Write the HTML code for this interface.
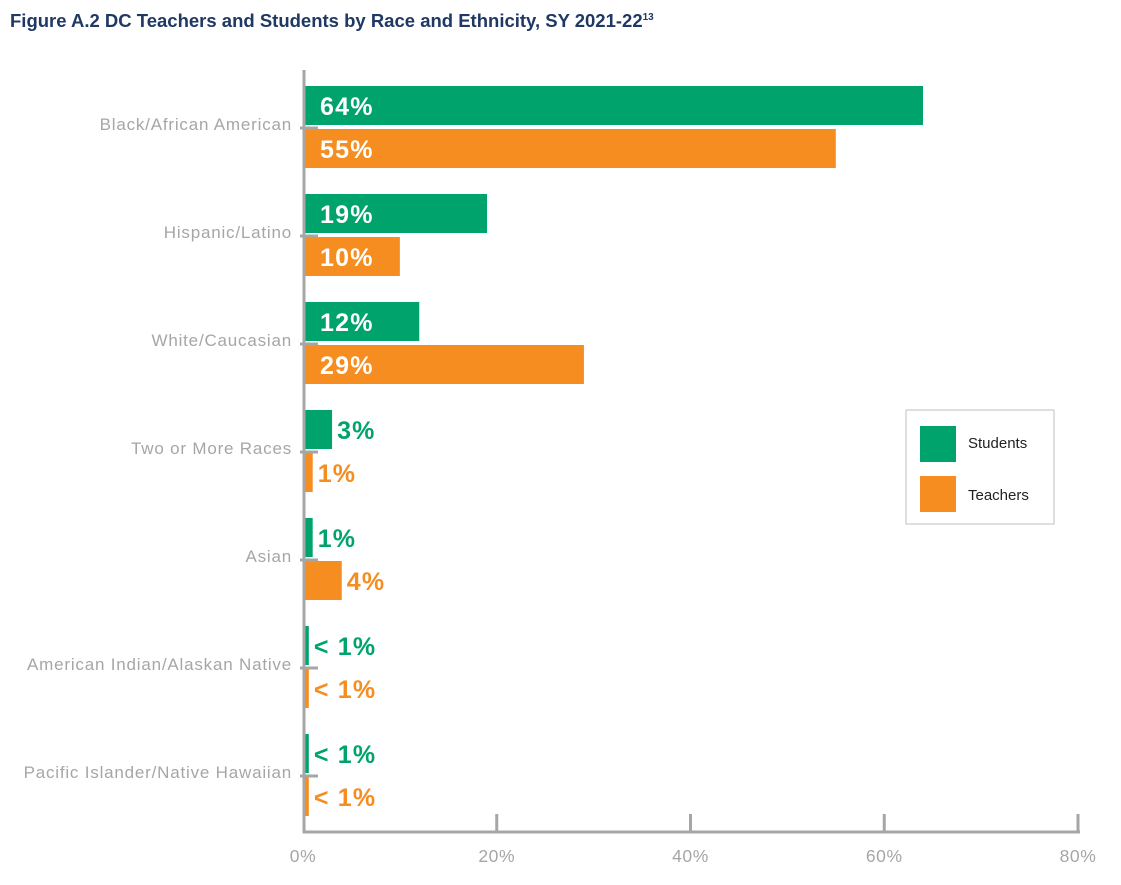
<!DOCTYPE html>
<html><head><meta charset="utf-8"><style>
body{margin:0;background:#fff;width:1121px;height:880px;overflow:hidden;font-family:"Liberation Sans",sans-serif}
</style></head><body>
<svg width="1121" height="880">
<text x="10" y="27" font-size="18.5" font-weight="bold" fill="#1f3864">Figure A.2 DC Teachers and Students by Race and Ethnicity, SY 2021-22<tspan font-size="10" dy="-7">13</tspan></text>
<g id="plot"></g>
<g>
<rect x="906" y="410" width="148" height="114" fill="#fff" stroke="#bfbfbf"/>
<rect x="920" y="426" width="36" height="36" fill="#00a36c"/>
<text x="968" y="448" font-size="15" fill="#222">Students</text>
<rect x="920" y="476" width="36" height="36" fill="#f68d20"/>
<text x="968" y="500" font-size="15" fill="#222">Teachers</text>
</g>
</svg>
<script>
const categories=["Black/African American","Hispanic/Latino","White/Caucasian","Two or More Races","Asian","American Indian/Alaskan Native","Pacific Islander/Native Hawaiian"];
const students=[64,19,12,3,1,0.6,0.6];
const teachers=[55,10,29,1,4,0.6,0.6];
const studentLabels=["64%","19%","12%","3%","1%","< 1%","< 1%"];
const teacherLabels=["55%","10%","29%","1%","4%","< 1%","< 1%"];
const xTicks=[0,20,40,60,80];
const NS="http://www.w3.org/2000/svg";
const g=document.getElementById('plot');
const x0=303,x1=1078,xMax=80;
const xs=v=>x0+(v/xMax)*(x1-x0);
const yTick=i=>128+108*i;
function mk(t,a){const e=document.createElementNS(NS,t);for(const k in a)e.setAttribute(k,a[k]);g.appendChild(e);return e;}
const GR="#a6a6a6";
categories.forEach((c,i)=>{
  const yt=yTick(i);
  [[students,studentLabels,yt-42,"#00a36c","student"],[teachers,teacherLabels,yt+1,"#f68d20","teacher"]].forEach(([vals,labs,y,col,nm])=>{
    const w=xs(vals[i])-x0;
    const r=mk('rect',{x:x0,y:y,width:w,height:39,fill:col});
    
    
    const inside=w>60;
    const t=mk('text',{x:inside?x0+17:x0+w+5,y:y+29,'font-size':25,'font-weight':'bold','letter-spacing':1.2,fill:inside?'#fff':col});
    t.textContent=labs[i];
    
    
  });
  const l=mk('text',{x:292,y:yt+2,'font-size':17,'letter-spacing':0.8,fill:GR,'text-anchor':'end'});
  l.textContent=c;
  
  
  const tk=mk('line',{x1:300,x2:318,y1:yt,y2:yt,stroke:GR,'stroke-width':3});
  
  
});
const ya=mk('line',{x1:304,x2:304,y1:70,y2:833,stroke:GR,'stroke-width':3});


const xa=mk('line',{x1:303,x2:1080,y1:832,y2:832,stroke:GR,'stroke-width':3});


xTicks.forEach(v=>{
  const X=xs(v);
  if(v>0){const tl=mk('line',{x1:X,x2:X,y1:814,y2:832,stroke:GR,'stroke-width':3});
  
  }
  const t=mk('text',{x:X,y:862,'font-size':17.5,'letter-spacing':0.6,fill:GR,'text-anchor':'middle'});
  t.textContent=v+'%';
  
  
});
</script>
</body></html>
